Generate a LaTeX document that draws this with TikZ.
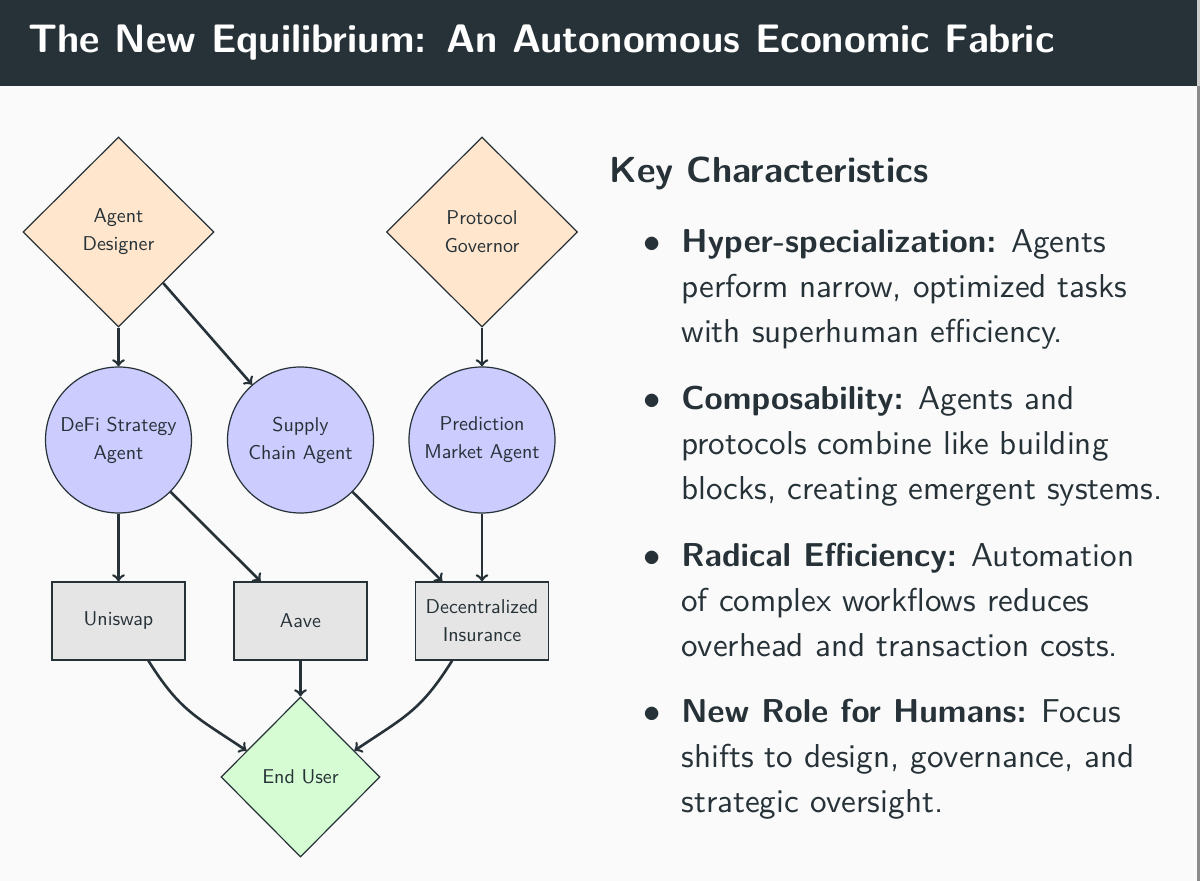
\documentclass[tikz,border=0pt]{standalone}
\usepackage{fontspec}
\setsansfont{lmsans10-regular.otf}[BoldFont=lmsans10-bold.otf, ItalicFont=lmsans10-oblique.otf, BoldItalicFont=lmsans10-boldoblique.otf]
\usetikzlibrary{shapes.geometric}
\renewcommand{\familydefault}{\sfdefault}
\definecolor{dark}{HTML}{263238}
\definecolor{bg}{HTML}{FAFAFA}
\definecolor{peach}{HTML}{FFE6CC}
\definecolor{lav}{HTML}{CCCCFF}
\definecolor{mint}{HTML}{D6FCD4}
\definecolor{boxgray}{HTML}{E5E5E5}
\definecolor{edgegray}{HTML}{8C8C8C}
\newcommand{\nodefont}{\fontsize{10}{14}\selectfont}
\newcommand{\itemfont}{\fontsize{16.55}{22.5}\selectfont}
\begin{document}
\begin{tikzpicture}[x=0.5pt,y=-0.5pt,
  conn/.style={->, line width=1.3pt, draw=dark},
  base/.style={draw=dark, line width=0.6pt, inner sep=0pt, align=center, text=dark, font=\nodefont},
  dia/.style={base, diamond, fill=peach, minimum width=95.5pt, minimum height=95pt},
  enddia/.style={base, diamond, fill=mint, minimum width=79.5pt, minimum height=80pt},
  agent/.style={base, circle, fill=lav, minimum size=73pt},
  proto/.style={base, rectangle, fill=boxgray, minimum width=66.5pt, minimum height=39pt},
  txt/.style={inner sep=0pt, text=dark, anchor=base west},
  bul/.style={inner sep=0pt, text=dark, anchor=base, font=\itemfont},
]
\useasboundingbox (0,0) rectangle (1200,881);
\fill[bg] (0,0) rectangle (1200,881);
\fill[dark] (0,0) rectangle (1197,86);
\fill[edgegray] (1197,86) rectangle (1200,881);
\fill[gray!40] (1197,0) rectangle (1200,86);

\node[txt, text=white, font=\fontsize{19.9}{23}\selectfont\bfseries] (title) at (28,53)
  {The New Equilibrium: An Autonomous Economic Fabric};

% diagram
\node[dia] (ad) at (118.5,232) {Agent\\Designer};
\node[dia] (pg) at (482,232) {Protocol\\Governor};
\node[agent] (defi) at (118.5,440) {DeFi Strategy\\Agent};
\node[agent] (sc) at (300.5,440) {Supply\\Chain Agent};
\node[agent] (pm) at (482,440) {Prediction\\Market Agent};
\node[proto] (uni) at (118.5,621) {Uniswap};
\node[proto] (aave) at (300.5,621) {Aave};
\node[proto] (ins) at (482,621) {Decentralized\\Insurance};
\node[enddia] (eu) at (300.5,777) {End User};

\draw[conn] (ad) -- (defi);
\draw[conn] (ad) -- (sc);
\draw[conn] (pg) -- (pm);
\draw[conn] (defi) -- (uni);
\draw[conn] (defi) -- (aave);
\draw[conn] (sc) -- (ins);
\draw[conn] (pm) -- (ins);
\draw[conn] (aave) -- (eu);
\draw[conn] (uni.-53) .. controls +(-58:30pt) and +(146:30pt) .. (eu.154);
\draw[conn] (ins.-127) .. controls +(-122:30pt) and +(34:30pt) .. (eu.26);

% right column
\node[txt, font=\fontsize{18.1}{21}\selectfont\bfseries] (head) at (609,183) {Key Characteristics};

\node[bul] (b1) at (652,253) {$\bullet$};
\node[txt] (i1) at (681,253) {\parbox[t]{300pt}{\itemfont\raggedright
  \textbf{Hyper-specialization:} Agents\\perform narrow, optimized tasks\\with superhuman efficiency.}};
\node[bul] (b2) at (652,410) {$\bullet$};
\node[txt] (i2) at (681,410) {\parbox[t]{300pt}{\itemfont\raggedright
  \textbf{Composability:} Agents and\\protocols combine like building\\blocks, creating emergent systems.}};
\node[bul] (b3) at (652,567) {$\bullet$};
\node[txt] (i3) at (681,567) {\parbox[t]{300pt}{\itemfont\raggedright
  \textbf{Radical Efficiency:} Automation\\of complex workflows reduces\\overhead and transaction costs.}};
\node[bul] (b4) at (652,723) {$\bullet$};
\node[txt] (i4) at (681,723) {\parbox[t]{300pt}{\itemfont\raggedright
  \textbf{New Role for Humans:} Focus\\shifts to design, governance, and\\strategic oversight.}};
\end{tikzpicture}
\end{document}
